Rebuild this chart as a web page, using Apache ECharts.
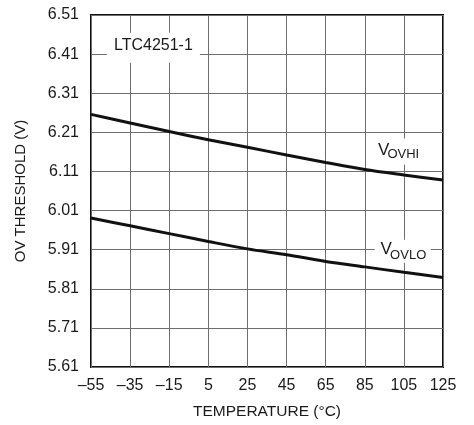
<!DOCTYPE html>
<html>
<head>
<meta charset="utf-8">
<script src="https://cdn.jsdelivr.net/npm/echarts@6/dist/echarts.min.js"></script>
<style>
html,body{margin:0;padding:0;background:#fff;}
#c{width:474px;height:425px;}
</style>
</head>
<body>
<div id="c"></div>
<script>
// ---- data ----
const temperatures = [-55, -35, -15, 5, 25, 45, 65, 85, 105, 125];
const vovhi = [6.256, 6.234, 6.212, 6.191, 6.172, 6.152, 6.133, 6.115, 6.101, 6.088];
const vovlo = [5.991, 5.971, 5.951, 5.931, 5.912, 5.897, 5.880, 5.866, 5.852, 5.839];
const xTickMin = -55, xTickMax = 125, xTickStep = 20;
const yTickMin = 5.61, yTickMax = 6.51, yTickStep = 0.1;
const xTitle = 'TEMPERATURE (°C)';
const yTitle = 'OV THRESHOLD (V)';
const partLabel = 'LTC4251-1';

const FONT = '"Liberation Sans", Arial, sans-serif';
const TXT = '#1a1a1a';

const pairs = (xs, ys) => xs.map((x, i) => [x, ys[i]]);

const chart = echarts.init(document.getElementById('c'), null, {renderer: 'canvas'});
chart.setOption({
  animation: false,
  backgroundColor: '#fff',
  grid: {left: 91, right: 31, top: 15, bottom: 57, show: true,
         borderColor: '#111', borderWidth: 2, backgroundColor: 'transparent'},
  xAxis: {
    type: 'value', min: xTickMin, max: xTickMax, interval: xTickStep,
    name: xTitle, nameLocation: 'middle', nameGap: 37,
    nameTextStyle: {fontFamily: FONT, fontSize: 15.5, color: TXT},
    axisLine: {show: false}, axisTick: {show: false},
    axisLabel: {margin: 11, fontFamily: FONT, fontSize: 16, color: TXT,
      formatter: v => String(Math.round(v)).replace('-', '\u2013')},
    splitLine: {show: true, lineStyle: {color: '#6e6e6e', width: 1}}
  },
  yAxis: {
    type: 'value', min: yTickMin, max: yTickMax, interval: yTickStep,
    name: yTitle, nameLocation: 'middle', nameGap: 63,
    nameTextStyle: {fontFamily: FONT, fontSize: 15, color: TXT},
    axisLine: {show: false}, axisTick: {show: false},
    axisLabel: {margin: 12, fontFamily: FONT, fontSize: 16, color: TXT,
      formatter: v => v.toFixed(2)},
    splitLine: {show: true, lineStyle: {color: '#6e6e6e', width: 1}}
  },
  series: [
    {name: 'VOVHI', type: 'line', data: pairs(temperatures, vovhi), smooth: 0.3,
     showSymbol: false, lineStyle: {color: '#111', width: 3}, z: 5},
    {name: 'VOVLO', type: 'line', data: pairs(temperatures, vovlo), smooth: 0.3,
     showSymbol: false, lineStyle: {color: '#111', width: 3}, z: 5}
  ]
});

// ---- annotations anchored in data coordinates ----
function px(x, y) { return chart.convertToPixel({gridIndex: 0}, [x, y]); }
const graphics = [];
function box(anchor, w, h) {
  graphics.push({type: 'rect', z: 10, shape: {x: anchor[0] - w / 2, y: anchor[1] - h / 2, width: w, height: h},
                 style: {fill: '#fff'}});
}
function txt(anchor, dx, dy, s, size, align) {
  graphics.push({type: 'text', z: 11, x: anchor[0] + dx, y: anchor[1] + dy,
    style: {text: s, fontFamily: FONT, fontSize: size, fill: TXT, align: align || 'left', verticalAlign: 'middle'}});
}
const aPart = px(-23.1, 6.426);
box(aPart, 93, 30);
txt(aPart, 0, -2.5, partLabel, 16, 'center');

const aHi = px(102.2, 6.161);
box(aHi, 47, 26);
txt(aHi, -20.5, -1.3, 'V', 17);
txt(aHi, -11, 2.9, 'OVHI', 13);

const aLo = px(104.4, 5.906);
box(aLo, 56, 23);
txt(aLo, -22.3, -1.5, 'V', 17);
txt(aLo, -12.6, 3.7, 'OVLO', 13);

chart.setOption({graphic: graphics});
</script>
</body>
</html>
